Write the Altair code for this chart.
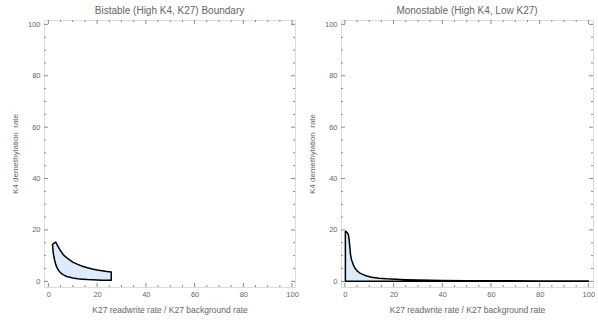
import altair as alt
import pandas as pd

# ---------------- data ----------------
# Left panel: bistable region (upper and lower boundary at shared x)
bi_x     = [1.7, 2.0, 2.5, 3.0, 3.5, 4.0, 5.0, 6.0, 7.0, 8.0, 10, 12, 14, 16, 18, 20, 22, 24, 25.8]
bi_upper = [14.3, 14.6, 15.0, 15.3, 14.4, 13.5, 11.9, 10.5, 9.6, 8.8, 7.5, 6.6, 5.9, 5.3, 4.8, 4.4, 4.1, 3.8, 3.6]
bi_lower = [14.3, 11.0, 8.5, 6.6, 5.4, 4.5, 3.3, 2.6, 2.1, 1.75, 1.3, 1.0, 0.85, 0.7, 0.6, 0.52, 0.46, 0.42, 0.4]

# Right panel: monostable region (under the curve, down to 0)
mo_x     = [0.2, 0.5, 1.0, 1.4, 1.7, 2.0, 2.3, 2.7, 3.3, 4.0, 5.0, 6.0, 7.5, 9, 11, 14, 17, 21, 25, 30, 40, 50, 60, 80, 100]
mo_upper = [19.5, 19.4, 18.9, 18.3, 16.5, 13.5, 10.5, 8.5, 6.8, 5.3, 4.1, 3.3, 2.6, 2.1, 1.6, 1.25, 1.0, 0.8, 0.65, 0.5, 0.35, 0.28, 0.22, 0.16, 0.12]
mo_lower = [0.0] * len(mo_x)

major_ticks = [0, 20, 40, 60, 80, 100]
minor_ticks = [v for v in range(0, 101, 5) if v % 20 != 0]

titles = ["Bistable (High K4, K27) Boundary", "Monostable (High K4, Low K27)"]
x_title = "K27 readwrite rate / K27 background rate"
y_title = "K4 demethylation \u00a0rate"

FONT = "Liberation Sans"
FRAME = "#8a8a8a"
TEXT = "#666666"
FILL = "#dcecfd"

H = 267


def panel(xs, up, lo, title, W, xdom, ydom):
    df = pd.DataFrame({"x": xs, "upper": up, "lower": lo})
    sx = alt.Scale(domain=xdom, nice=False, zero=False)
    sy = alt.Scale(domain=ydom, nice=False, zero=False)
    ax_common = dict(values=major_ticks, ticks=False, domain=False, grid=False,
                     labelFontSize=7.5, labelColor=TEXT, labelFont=FONT,
                     titleColor=TEXT, titleFont=FONT,
                     titleFontWeight="normal", format="d")
    xaxis = alt.Axis(title=x_title, labelPadding=3, titlePadding=8,
                     titleFontSize=8.5, **ax_common)
    yaxis = alt.Axis(title=y_title, labelPadding=4, titlePadding=8,
                     titleFontSize=8, **ax_common)
    area = alt.Chart(df).mark_area(
        fill=FILL, fillOpacity=1, stroke="black", strokeWidth=1.5,
        interpolate="linear", strokeJoin="round"
    ).encode(
        x=alt.X("x:Q", scale=sx, axis=xaxis),
        y=alt.Y("upper:Q", scale=sy, axis=yaxis),
        y2="lower:Q",
    )
    layers = [area]
    for vals, L in ((major_ticks, 4), (minor_ticks, 2)):
        d = pd.DataFrame({"v": vals})
        base = alt.Chart(d).mark_rule(color=FRAME, strokeWidth=1)
        layers.append(base.encode(x=alt.X("v:Q", scale=sx, axis=xaxis),
                                  y=alt.value(H), y2=alt.value(H - L)))
        layers.append(base.encode(x=alt.X("v:Q", scale=sx, axis=xaxis),
                                  y=alt.value(0), y2=alt.value(L)))
        layers.append(base.encode(y=alt.Y("v:Q", scale=sy, axis=yaxis),
                                  x=alt.value(0), x2=alt.value(L)))
        layers.append(base.encode(y=alt.Y("v:Q", scale=sy, axis=yaxis),
                                  x=alt.value(W), x2=alt.value(W - L)))
    return alt.layer(*layers).properties(
        width=W, height=H,
        title=alt.TitleParams(title, fontSize=10, font=FONT, fontWeight="normal",
                              color=TEXT, anchor="middle", frame="group", offset=4),
    )


left = panel(bi_x, bi_upper, bi_lower, titles[0], 251, [-1.8, 101.2], [-2.2, 101.7])
right = panel(mo_x, mo_upper, mo_lower, titles[1], 252, [-1.6, 101.9], [-2.2, 101.7])

chart = alt.hconcat(left, right, spacing=8).properties(
    padding={"left": 10, "top": 5, "right": 0, "bottom": 0}
).configure_view(stroke=FRAME, strokeWidth=1).configure(background="white")

chart.save("out.html", embed_options={"renderer": "svg", "actions": False})
